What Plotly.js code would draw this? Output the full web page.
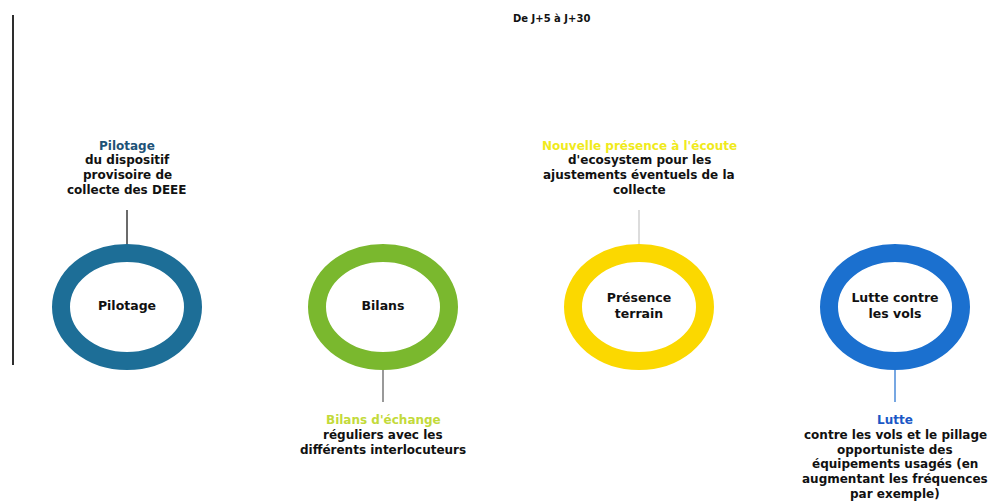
<!DOCTYPE html>
<html>
<head>
<meta charset="utf-8">
<script src="https://cdn.plot.ly/plotly-3.0.1.min.js"></script>
<style>html,body{margin:0;padding:0;background:#fff;}#chart{width:992px;height:503px;}</style>
</head>
<body>
<div id="chart"></div>
<script>
// ---- data ----
const periodTitle = "De J+5 à J+30";
const stages = ["Pilotage", "Bilans", "Présence<br>terrain", "Lutte contre<br>les vols"];
const headings = ["Pilotage", "Bilans d'échange", "Nouvelle présence à l'écoute", "Lutte"];
const descriptions = [
  ["du dispositif", "provisoire de", "collecte des DEEE"],
  ["réguliers avec les", "différents interlocuteurs"],
  ["d'ecosystem pour les", "ajustements éventuels de la", "collecte"],
  ["contre les vols et le pillage", "opportuniste des", "équipements usagés (en", "augmentant les fréquences", "par exemple)"]
];

// ---- styles ----
const ringColors = ["#1d6e97", "#7ab82e", "#fbd800", "#1b70cf"];
const headingColors = ["#1e5277", "#c3da3a", "#f0ea1c", "#1a57c6"];
const connectorColors = ["#3a3a3a", "#777777", "#d0d0d0", "#4a8ad8"];
const FONT = "'DejaVu Sans', sans-serif";

const W = 992, H = 503;
const unit = 256;           // px per stage step
const x0px = 127;           // first stage centre in px
const cy = 307;             // ring centre (y axis in px units)
const rx = 66 / unit, ry = 54; // ring path radii
const ringW = 18;
const lineGap = 14.8;

const idx = stages.map((_, i) => i);
const shapes = [];
const annotations = [];

// left vertical rule
shapes.push({type: "line", xref: "paper", yref: "y", x0: 13 / W, x1: 13 / W, y0: 15, y1: 365,
  line: {color: "#2e2e2e", width: 2}});

idx.forEach(i => {
  shapes.push({type: "circle", xref: "x", yref: "y",
    x0: i - rx, x1: i + rx, y0: cy - ry, y1: cy + ry,
    line: {color: ringColors[i], width: ringW}, fillcolor: "rgba(0,0,0,0)"});
  const above = i % 2 === 0;
  const edge = above ? cy - ry - ringW / 2 : cy + ry + ringW / 2;
  const end = above ? edge - 34 : edge + 32;
  shapes.push({type: "line", xref: "x", yref: "y", x0: i, x1: i, y0: edge, y1: end,
    line: {color: connectorColors[i], width: 1.5}});
  const lines = [headings[i]].concat(descriptions[i]);
  const n = lines.length;
  const first = above ? end - 20 - (n - 1) * lineGap : end + 18;
  lines.forEach((t, k) => {
    annotations.push({xref: "x", yref: "y", x: i, y: first + k * lineGap,
      yanchor: "middle", xanchor: "center", align: "center", showarrow: false, text: t,
      font: {family: FONT, size: 12, color: k === 0 ? headingColors[i] : "#111", weight: 700}});
  });
});

annotations.push({xref: "paper", yref: "y", x: 551 / W, y: 18, xanchor: "center", yanchor: "middle",
  showarrow: false, text: periodTitle, font: {family: FONT, size: 10, color: "#111", weight: 700}});

const trace = {
  type: "scatter", mode: "text", x: idx, y: idx.map(() => cy),
  text: stages, textposition: "middle center",
  textfont: {family: FONT, size: 12.5, color: "#111", weight: 700},
  hoverinfo: "skip", showlegend: false
};

const layout = {
  width: W, height: H, margin: {l: 0, r: 0, t: 0, b: 0},
  paper_bgcolor: "#fff", plot_bgcolor: "#fff",
  xaxis: {range: [-x0px / unit, (W - x0px) / unit], visible: false, fixedrange: true},
  yaxis: {range: [H, 0], visible: false, fixedrange: true},
  shapes: shapes, annotations: annotations, showlegend: false
};

Plotly.newPlot("chart", [trace], layout, {displayModeBar: false, staticPlot: true});
</script>
</body>
</html>
